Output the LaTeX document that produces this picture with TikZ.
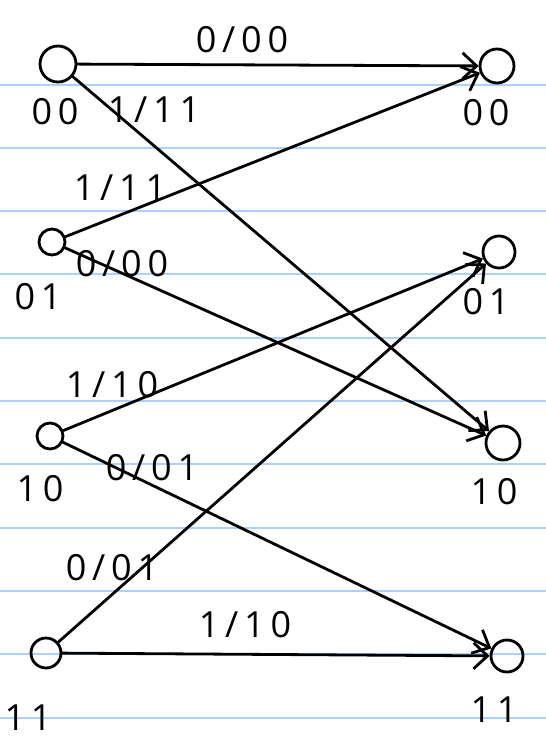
\documentclass[tikz,border=0pt]{standalone}
\usepackage{fontspec}
\setmainfont{Open Sans}[LetterSpace=16]
\usepackage{tikz}
\usetikzlibrary{arrows.meta}
\definecolor{ruled}{HTML}{A8D2FF}

\begin{document}
\begin{tikzpicture}[x=1pt, y=-1pt, line width=2.8pt,
  stnode/.style={draw, circle, inner sep=0pt, line width=2.8pt},
  lbl/.style={font=\fontsize{36}{40}\selectfont, inner sep=0pt},
  trans/.style={-{Straight Barb[length=14pt,width=26pt,line width=2.8pt]}, line cap=round}]

\useasboundingbox (0,0) rectangle (546,742);

% Paper lines
\foreach \k in {0,...,10}
  \draw[ruled, line width=2pt] (0,{84.5+63.3*\k}) -- (546,{84.5+63.3*\k});

% States at time t
\node[stnode, minimum size=36pt] (a00) at (58,64) {};
\node[stnode, minimum size=26pt] (a01) at (52,242) {};
\node[stnode, minimum size=26pt] (a10) at (50,436) {};
\node[stnode, minimum size=30pt] (a11) at (46,653) {};

% States at time t+1
\node[stnode, minimum size=34pt] (b00) at (497,66) {};
\node[stnode, minimum size=32pt] (b01) at (499,252) {};
\node[stnode, minimum size=34pt] (b10) at (503,443) {};
\node[stnode, minimum size=32pt] (b11) at (507,656) {};

% State names
\node[lbl] (s00) at (55,112) {00};
\node[lbl] (s01) at (38,297) {01};
\node[lbl] (s10) at (40,489) {10};
\node[lbl] (s11) at (28,718) {11};
\node[lbl] (t00) at (486,113) {00};
\node[lbl] (t01) at (486,302) {01};
\node[lbl] (t10) at (494,492) {10};
\node[lbl] (t11) at (494,710) {11};

% Transitions
\draw[trans] (a00) -- (b00);
\draw[trans] (a00) -- (b10);
\draw[trans] (a01) -- (b00);
\draw[trans] (a01) -- (b10);
\draw[trans] (a10) -- (b01);
\draw[trans] (a10) -- (b11);
\draw[trans] (a11) -- (b01);
\draw[trans] (a11) -- (b11);

% Input/output labels
\node[lbl] (e1) at (242,40) {0/00};
\node[lbl] (e2) at (154,110) {1/11};
\node[lbl] (e3) at (120,188) {1/11};
\node[lbl] (e4) at (122,264) {0/00};
\node[lbl] (e5) at (112,385) {1/10};
\node[lbl] (e6) at (152,468) {0/01};
\node[lbl] (e7) at (112,568) {0/01};
\node[lbl] (e8) at (245,625) {1/10};

\end{tikzpicture}
\end{document}
